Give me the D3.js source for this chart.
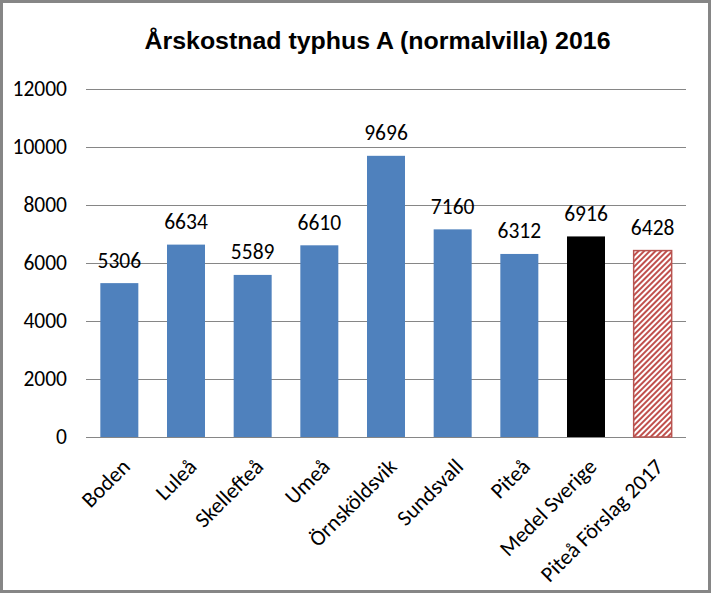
<!DOCTYPE html>
<html><head><meta charset="utf-8">
<script src="https://cdn.jsdelivr.net/npm/d3@7"></script>
<style>body{margin:0;background:#fff}svg{display:block}</style>
</head><body>
<script>
const categories = ["Boden","Luleå","Skellefteå","Umeå","Örnsköldsvik","Sundsvall","Piteå","Medel Sverige","Piteå Förslag 2017"];
const values = [5306,6634,5589,6610,9696,7160,6312,6916,6428];
const yTicks = [0,2000,4000,6000,8000,10000,12000];
const title = "Årskostnad typhus A (normalvilla) 2016";

const W=711,H=593;
const m={left:86,right:25,top:89,bottom:156};
const svg=d3.select("body").append("svg").attr("width",W).attr("height",H);
const defs=svg.append("defs");
const pat=defs.append("pattern").attr("id","hatch").attr("patternUnits","userSpaceOnUse")
  .attr("width",4).attr("height",4).attr("patternTransform","rotate(45)");
pat.append("rect").attr("width",4).attr("height",4).attr("fill","#fff");
pat.append("rect").attr("width",2).attr("height",4).attr("fill","#c0504d");

svg.append("rect").attr("x",1.5).attr("y",1.5).attr("width",W-3).attr("height",H-3)
  .attr("fill","#fff").attr("stroke","#868686").attr("stroke-width",3);

const font="Carlito, Calibri, Lato, sans-serif";
const x=d3.scaleBand().domain(categories).range([m.left,W-m.right]).paddingInner(0.43).paddingOuter(0.215);
const y=d3.scaleLinear().domain([0,12000]).range([H-m.bottom,m.top]);

svg.append("g").selectAll("line").data(yTicks).join("line")
  .attr("x1",m.left).attr("x2",W-m.right).attr("y1",d=>y(d)+0.5).attr("y2",d=>y(d)+0.5)
  .attr("stroke","#868686").attr("stroke-width",1);

const yAxis=svg.append("g").attr("transform",`translate(${m.left},0)`)
  .call(d3.axisLeft(y).tickValues(yTicks).tickSize(0).tickPadding(19).tickFormat(d3.format("d")));
yAxis.select(".domain").remove();
yAxis.selectAll("text").attr("font-family",font).attr("font-size",21.5).attr("fill","#000");

const colors=categories.map((c,i)=> i<7?"#4f81bd":(i===7?"#000":"url(#hatch)"));
svg.append("g").selectAll("rect").data(values).join("rect")
  .attr("x",(d,i)=>x(categories[i])).attr("width",x.bandwidth())
  .attr("y",d=>y(d)).attr("height",d=>y(0)-y(d))
  .attr("fill",(d,i)=>colors[i])
  .attr("stroke",(d,i)=>i===8?"#b85450":"none").attr("stroke-width",1.5);

svg.append("g").selectAll("text").data(values).join("text")
  .attr("x",(d,i)=>x(categories[i])+x.bandwidth()/2).attr("y",d=>y(d)-15.5)
  .attr("text-anchor","middle").attr("font-family",font).attr("font-size",21.5).attr("fill","#000")
  .text(d=>d);

const xAxis=svg.append("g").attr("transform",`translate(0,${y(0)})`)
  .call(d3.axisBottom(x).tickSize(0).tickPadding(0));
xAxis.select(".domain").remove();
xAxis.selectAll("text").attr("font-family",font).attr("font-size",22).attr("fill","#000")
  .attr("text-anchor","end").attr("dy",0).attr("y",0)
  .attr("transform","translate(12,31) rotate(-45)");

svg.append("text").attr("x",377.5).attr("y",49).attr("text-anchor","middle")
  .attr("font-family","Liberation Sans, Arial, sans-serif").attr("font-weight","bold")
  .attr("font-size",23).attr("textLength",466).attr("lengthAdjust","spacingAndGlyphs")
  .attr("fill","#000").text(title);
</script>
</body></html>
